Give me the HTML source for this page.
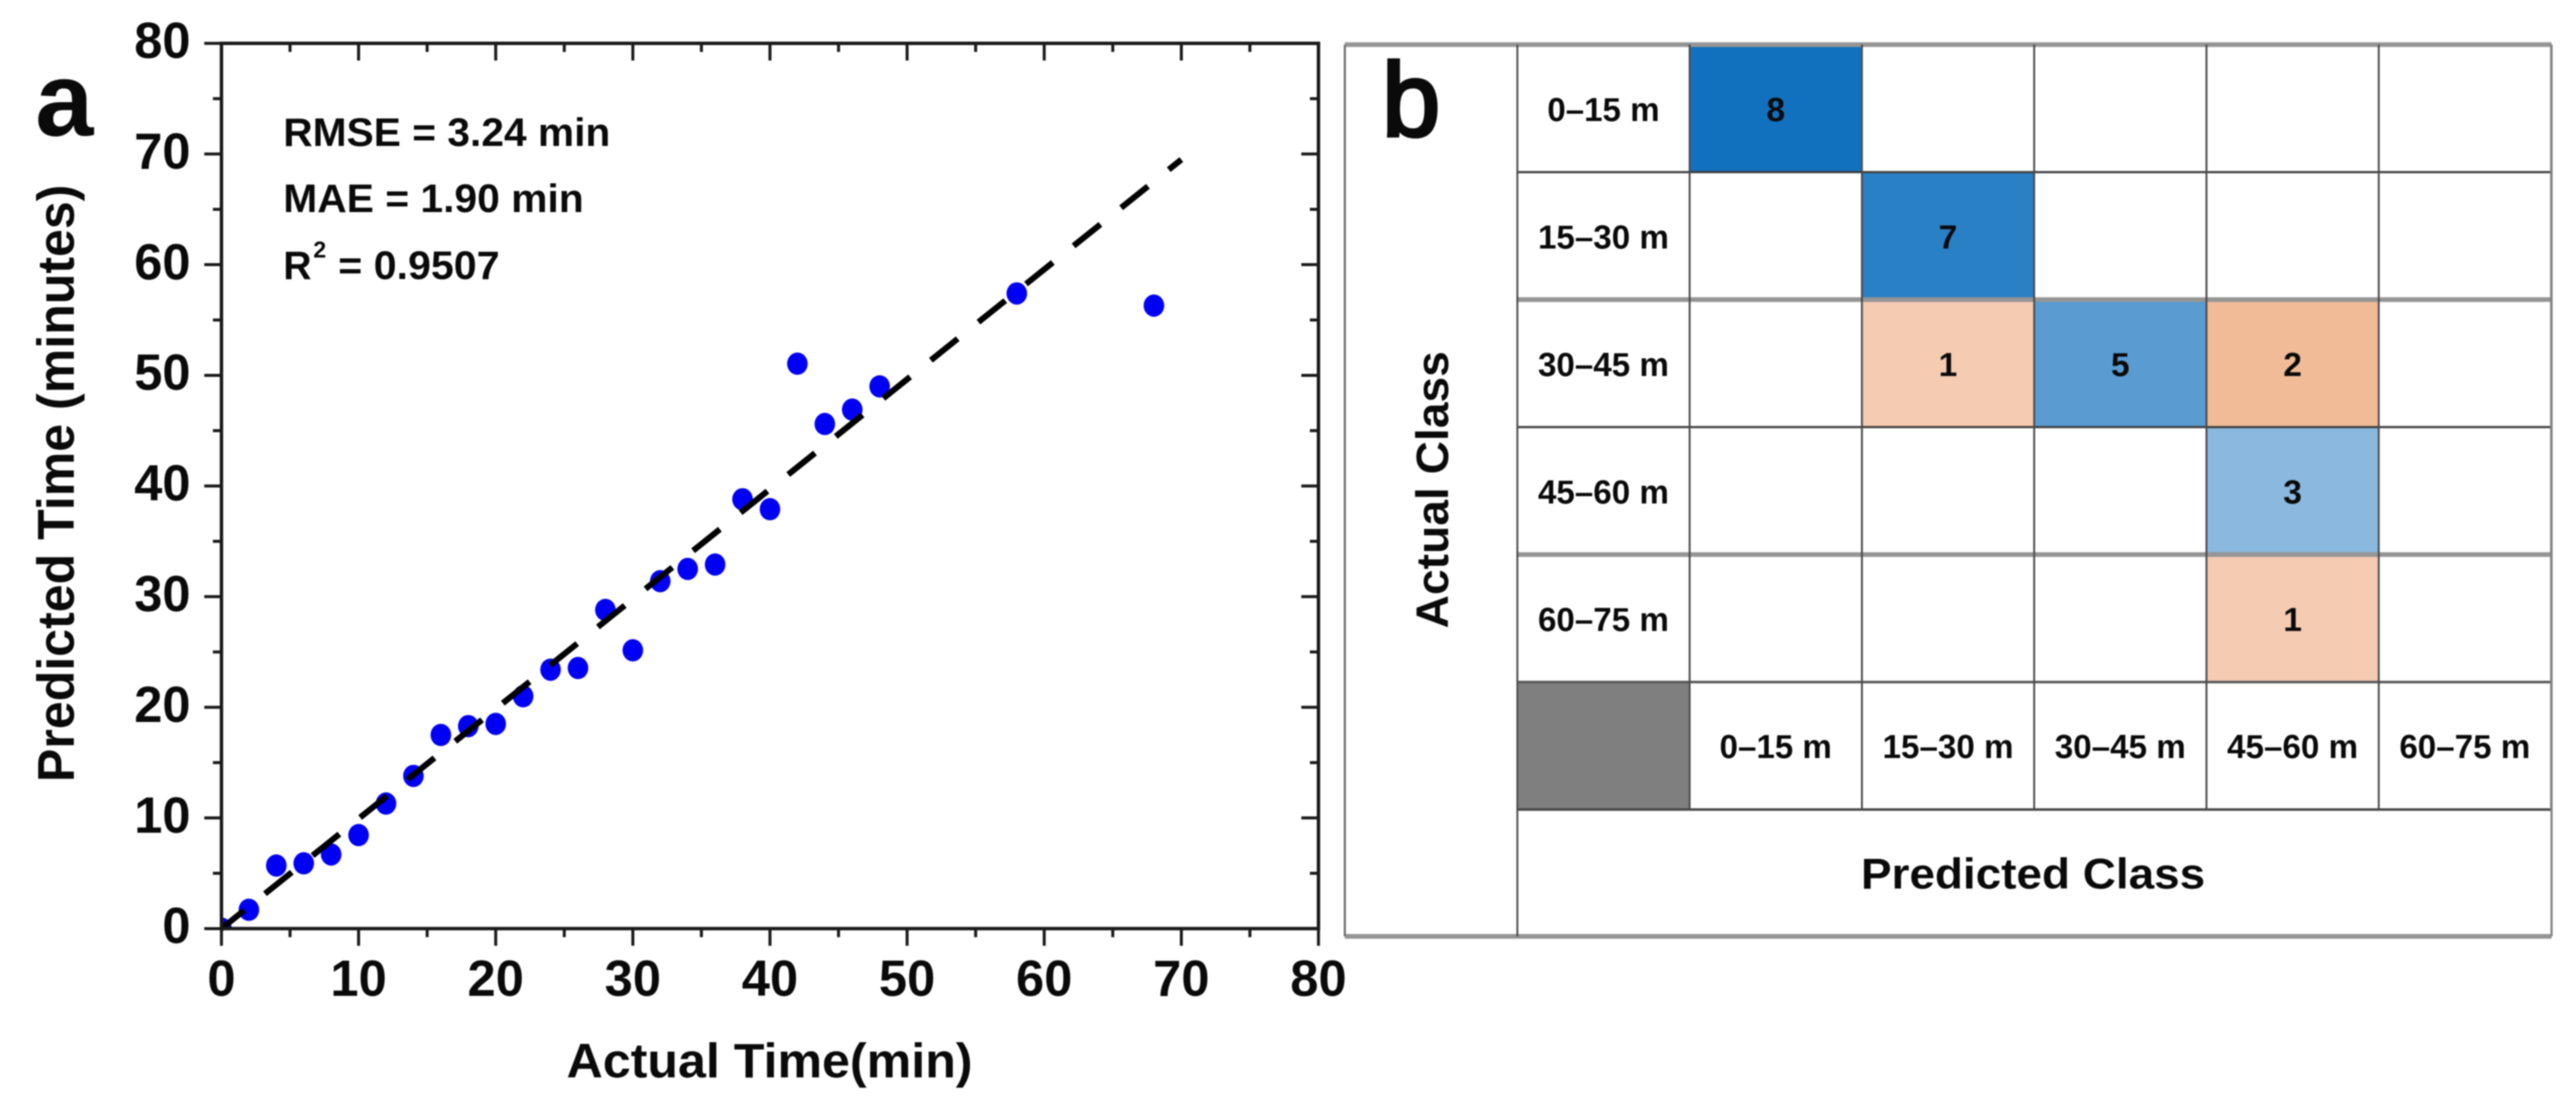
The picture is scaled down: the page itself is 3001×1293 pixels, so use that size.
<!DOCTYPE html>
<html lang="en">
<head>
<meta charset="utf-8">
<title>Predicted vs actual time and confusion matrix</title>
<style>
  html, body { margin: 0; padding: 0; background: #fff; }
  svg { display: block; filter: blur(0.8px); }
  text { font-family: "Liberation Sans", Arial, sans-serif; font-weight: bold; fill: #0a0a0a; }
</style>
</head>
<body>
<svg id="figure" xmlns="http://www.w3.org/2000/svg" width="3001" height="1293" viewBox="0 0 3001 1293">
  <rect x="0" y="0" width="3001" height="1293" fill="#ffffff"/>
  <defs>
    <clipPath id="plot-clip"><rect x="258" y="50" width="1278" height="1032"/></clipPath>
  </defs>
  <g id="panel-a"></g>
  <g id="panel-b"></g>

  <text x="41" y="158" font-size="122">a</text>
  <text x="1610" y="158" font-size="122" style="font-weight:normal" stroke="#0a0a0a" stroke-width="4">b</text>

  <text x="330" y="170" font-size="46" textLength="381" lengthAdjust="spacingAndGlyphs">RMSE = 3.24 min</text>
  <text x="330" y="247" font-size="46" textLength="350" lengthAdjust="spacingAndGlyphs">MAE = 1.90 min</text>
  <text y="325" font-size="46"><tspan x="330" textLength="33" lengthAdjust="spacingAndGlyphs">R</tspan><tspan x="365" y="300" font-size="27">2</tspan><tspan x="394" y="325" textLength="188" lengthAdjust="spacingAndGlyphs">= 0.9507</tspan></text>

  <text x="660" y="1255" font-size="57" textLength="473" lengthAdjust="spacingAndGlyphs">Actual Time(min)</text>
  <text transform="translate(86 911) rotate(-90)" x="0" y="0" font-size="60" textLength="696" lengthAdjust="spacingAndGlyphs">Predicted Time (minutes)</text>

  <text x="2168" y="1035" font-size="50" textLength="401" lengthAdjust="spacingAndGlyphs">Predicted Class</text>
  <text transform="translate(1687 732) rotate(-90)" x="0" y="0" font-size="53" textLength="323" lengthAdjust="spacingAndGlyphs">Actual Class</text>
</svg>

<script>
// ---- Panel a data ----
const actualMinutes = [0, 2, 4, 6, 8, 10, 12, 14, 16, 18, 20, 22, 24, 26, 28, 30, 32, 34, 36, 38, 40, 42, 44, 46, 48, 58, 68];
const predictedMinutes = [0, 1.7, 5.7, 5.9, 6.7, 8.45, 11.3, 13.8, 17.5, 18.3, 18.5, 21.0, 23.4, 23.55, 28.8, 25.15, 31.4, 32.5, 32.9, 38.8, 37.9, 51.05, 45.6, 46.9, 49.0, 57.4, 56.3];
const fitLineX = [0, 70];
const fitLineY = [0, 69.5];
const majorTickValues = [0, 10, 20, 30, 40, 50, 60, 70, 80];
const minorTickValues = [5, 15, 25, 35, 45, 55, 65, 75];

// ---- Panel b data ----
const rowClasses = ['0–15 m', '15–30 m', '30–45 m', '45–60 m', '60–75 m'];
const columnClasses = ['0–15 m', '15–30 m', '30–45 m', '45–60 m', '60–75 m'];
const row0Counts = [8, 0, 0, 0, 0];
const row1Counts = [0, 7, 0, 0, 0];
const row2Counts = [0, 1, 5, 2, 0];
const row3Counts = [0, 0, 0, 3, 0];
const row4Counts = [0, 0, 0, 1, 0];
const confusionCounts = [row0Counts, row1Counts, row2Counts, row3Counts, row4Counts];

const NS = 'http://www.w3.org/2000/svg';
const panelA = document.getElementById('panel-a');
const panelB = document.getElementById('panel-b');

function make(tag, attrs, parent) {
  const node = document.createElementNS(NS, tag);
  for (const key in attrs) node.setAttribute(key, attrs[key]);
  parent.appendChild(node);
  return node;
}

// axis functions
const xScale = v => 258 + v * 15.975;
const yScale = v => 1081.7 - v * 12.89;
const X0 = xScale(0), X1 = xScale(80), Y0 = yScale(0), Y1 = yScale(80);

// markers first, dashed fit on top
const dotGroup = make('g', { 'clip-path': 'url(#plot-clip)' }, panelA);


actualMinutes.forEach((a, i) => {
  const dot = make('ellipse', { cx: xScale(a), cy: yScale(predictedMinutes[i]), rx: 12, ry: 13, fill: '#0000f5' }, dotGroup);
  
  
});

const fit = make('line', {
  x1: xScale(fitLineX[0]), y1: yScale(fitLineY[0]),
  x2: xScale(fitLineX[1]), y2: yScale(fitLineY[1]),
  stroke: '#000', 'stroke-width': 7, 'stroke-dasharray': '40 31', 'stroke-dashoffset': 6
}, panelA);



// ticks
const tickGroup = make('g', { stroke: '#1a1a1a', 'stroke-width': 3.5 }, panelA);


function drawTicks(values, len) {
  values.forEach(v => {
    const left = make('line', { x1: X0 - len, x2: X0, y1: yScale(v), y2: yScale(v) }, tickGroup);
    
    
    const right = make('line', { x1: X1 - len, x2: X1, y1: yScale(v), y2: yScale(v) }, tickGroup);
    
    
    const bottom = make('line', { x1: xScale(v), x2: xScale(v), y1: Y0, y2: Y0 + len }, tickGroup);
    
    
    const top = make('line', { x1: xScale(v), x2: xScale(v), y1: Y1, y2: Y1 + len }, tickGroup);
    
    
  });
}
drawTicks(majorTickValues, 20);
drawTicks(minorTickValues, 10);

// frame
const frame = make('rect', { x: X0, y: Y1, width: X1 - X0, height: Y0 - Y1, fill: 'none', stroke: '#1a1a1a', 'stroke-width': 4 }, panelA);



// tick labels
majorTickValues.forEach(v => {
  const yLabel = make('text', { x: 222, y: yScale(v) + 17, 'font-size': 59, 'text-anchor': 'end' }, panelA);
  yLabel.textContent = String(v);
  
  
  const xLabel = make('text', { x: xScale(v), y: 1160, 'font-size': 59, 'text-anchor': 'middle' }, panelA);
  xLabel.textContent = String(v);
  
  
});

// ---- Confusion matrix ----
const colX = c => 1767.7 + c * 200.7;       // c = 0 is the row-label column
const rowY = r => 52 + r * 148.5;
const OUTER_LEFT = 1566.7, OUTER_RIGHT = 2972.5, OUTER_TOP = 52, OUTER_BOTTOM = 1090.7;

function cellColor(count, isDiagonal) {
  if (isDiagonal) {
    return 'rgb(' + Math.round(210 - 24 * count) + ',' + Math.round(227 - 14.2 * count) + ',' + Math.round(243 - 6.6 * count) + ')';
  }
  return 'rgb(' + Math.round(248 - 3 * count) + ',' + Math.round(219 - 16 * count) + ',' + Math.round(204 - 26 * count) + ')';
}

confusionCounts.forEach((rowValues, r) => {
  const rowLabel = make('text', { x: colX(0) + 100.3, y: rowY(r) + 89, 'font-size': 39, 'text-anchor': 'middle', textLength: rowClasses[r].length * 21.8, lengthAdjust: 'spacingAndGlyphs' }, panelB);
  rowLabel.textContent = rowClasses[r];
  
  
  rowValues.forEach((count, c) => {
    if (!count) return;
    const cell = make('rect', { x: colX(c + 1), y: rowY(r), width: 200.7, height: 148.5, fill: cellColor(count, r === c) }, panelB);
    
    
  });
});

const greyCell = make('rect', { x: colX(0), y: rowY(5), width: 200.7, height: 148.5, fill: '#7f7f7f' }, panelB);



columnClasses.forEach((label, c) => {
  const colLabel = make('text', { x: colX(c + 1) + 100.3, y: 883, 'font-size': 39, 'text-anchor': 'middle', textLength: label.length * 21.8, lengthAdjust: 'spacingAndGlyphs' }, panelB);
  colLabel.textContent = label;
  
  
});

// grid lines
const gridGroup = make('g', {}, panelB);


const heavyRows = [0, 2, 4];
for (let r = 0; r <= 6; r++) {
  const y = r === 6 ? OUTER_BOTTOM : rowY(r);
  const isOuter = r === 0 || r === 6;
  const grey = isOuter || heavyRows.includes(r);
  const hLine = make('line', {
    x1: isOuter ? OUTER_LEFT : colX(0), x2: OUTER_RIGHT, y1: y, y2: y,
    stroke: grey ? '#959595' : '#3c3c3c', 'stroke-width': grey ? 5.5 : 2.5
  }, gridGroup);
  
  
}
const hDark5 = make('line', { x1: colX(0), x2: OUTER_RIGHT, y1: rowY(5), y2: rowY(5), stroke: '#5a5a5a', 'stroke-width': 3 }, gridGroup);


const hDark6 = make('line', { x1: colX(0), x2: OUTER_RIGHT, y1: rowY(6), y2: rowY(6), stroke: '#4a4a4a', 'stroke-width': 3 }, gridGroup);


for (let c = 0; c <= 6; c++) {
  const x = colX(c);
  const bottom = c === 0 ? OUTER_BOTTOM : rowY(6);
  const vLine = make('line', { x1: x, x2: x, y1: OUTER_TOP, y2: bottom, stroke: c === 6 ? '#808080' : '#4a4a4a', 'stroke-width': 2.2 }, gridGroup);
  
  
}
const outerLeft = make('line', { x1: OUTER_LEFT, x2: OUTER_LEFT, y1: OUTER_TOP, y2: OUTER_BOTTOM, stroke: '#6e6e6e', 'stroke-width': 2.5 }, gridGroup);


const outerRight = make('line', { x1: OUTER_RIGHT, x2: OUTER_RIGHT, y1: OUTER_TOP, y2: OUTER_BOTTOM, stroke: '#808080', 'stroke-width': 2.5 }, gridGroup);



// counts on top of the grid
confusionCounts.forEach((rowValues, r) => {
  rowValues.forEach((count, c) => {
    if (!count) return;
    const countLabel = make('text', { x: colX(c + 1) + 100.3, y: rowY(r) + 89, 'font-size': 39, 'text-anchor': 'middle' }, panelB);
    countLabel.textContent = String(count);
    
    
  });
});
</script>
</body>
</html>
